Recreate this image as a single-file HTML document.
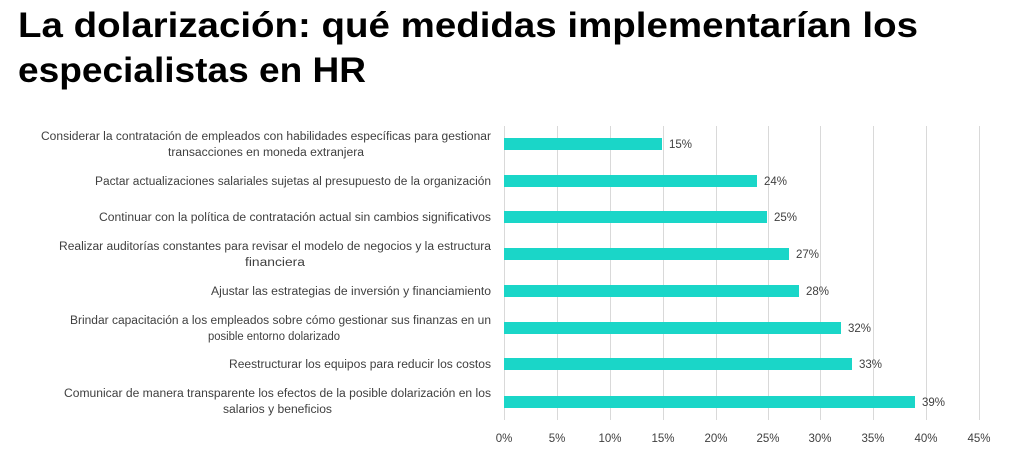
<!DOCTYPE html>
<html><head><meta charset="utf-8"><style>
html,body{margin:0;padding:0;background:#fff;width:1024px;height:455px;overflow:hidden}
svg{display:block}
.t{font-family:"Liberation Sans",sans-serif;font-weight:bold;font-size:35px;fill:#000}
.l{font-family:"Liberation Sans",sans-serif;font-size:11.5px;fill:#404040}
</style></head><body>
<svg width="1024" height="455" xmlns="http://www.w3.org/2000/svg">
<text class="t" x="18" y="37" textLength="900" lengthAdjust="spacingAndGlyphs">La dolarización: qué medidas implementarían los</text>
<text class="t" x="18" y="82" textLength="348" lengthAdjust="spacingAndGlyphs">especialistas en HR</text>
<g stroke="#d9d9d9" stroke-width="1">
<line x1="504.5" y1="126" x2="504.5" y2="420"/><line x1="557.5" y1="126" x2="557.5" y2="420"/>
<line x1="610.5" y1="126" x2="610.5" y2="420"/><line x1="663.5" y1="126" x2="663.5" y2="420"/>
<line x1="716.5" y1="126" x2="716.5" y2="420"/><line x1="768.5" y1="126" x2="768.5" y2="420"/>
<line x1="820.5" y1="126" x2="820.5" y2="420"/><line x1="873.5" y1="126" x2="873.5" y2="420"/>
<line x1="926.5" y1="126" x2="926.5" y2="420"/><line x1="979.5" y1="126" x2="979.5" y2="420"/>
</g>
<g fill="#1ad6c8">
<rect x="504" y="138" width="158" height="12"/>
<rect x="504" y="175" width="253" height="12"/>
<rect x="504" y="211" width="263" height="12"/>
<rect x="504" y="248" width="285" height="12"/>
<rect x="504" y="285" width="295" height="12"/>
<rect x="504" y="322" width="337" height="12"/>
<rect x="504" y="358" width="348" height="12"/>
<rect x="504" y="396" width="411" height="12"/>
</g>
<g class="l">
<text x="669" y="148">15%</text>
<text x="764" y="185">24%</text>
<text x="774" y="221">25%</text>
<text x="796" y="258">27%</text>
<text x="806" y="295">28%</text>
<text x="848" y="332">32%</text>
<text x="859" y="368">33%</text>
<text x="922" y="406">39%</text>
</g>
<g class="l">
<text x="41" y="140" textLength="450" lengthAdjust="spacingAndGlyphs">Considerar la contratación de empleados con habilidades específicas para gestionar</text>
<text x="168" y="156" textLength="196" lengthAdjust="spacingAndGlyphs">transacciones en moneda extranjera</text>
<text x="95" y="185" textLength="396" lengthAdjust="spacingAndGlyphs">Pactar actualizaciones salariales sujetas al presupuesto de la organización</text>
<text x="99" y="221" textLength="392" lengthAdjust="spacingAndGlyphs">Continuar con la política de contratación actual sin cambios significativos</text>
<text x="59" y="250" textLength="432" lengthAdjust="spacingAndGlyphs">Realizar auditorías constantes para revisar el modelo de negocios y la estructura</text>
<text x="245" y="266" textLength="60" lengthAdjust="spacingAndGlyphs">financiera</text>
<text x="211" y="295" textLength="280" lengthAdjust="spacingAndGlyphs">Ajustar las estrategias de inversión y financiamiento</text>
<text x="70" y="324" textLength="421" lengthAdjust="spacingAndGlyphs">Brindar capacitación a los empleados sobre cómo gestionar sus finanzas en un</text>
<text x="208" y="340" textLength="132" lengthAdjust="spacingAndGlyphs">posible entorno dolarizado</text>
<text x="229" y="368" textLength="262" lengthAdjust="spacingAndGlyphs">Reestructurar los equipos para reducir los costos</text>
<text x="64" y="397" textLength="427" lengthAdjust="spacingAndGlyphs">Comunicar de manera transparente los efectos de la posible dolarización en los</text>
<text x="223" y="413" textLength="109" lengthAdjust="spacingAndGlyphs">salarios y beneficios</text>
</g>
<g class="l" text-anchor="middle">
<text x="504" y="442">0%</text><text x="557" y="442">5%</text><text x="610" y="442">10%</text>
<text x="663" y="442">15%</text><text x="716" y="442">20%</text><text x="768" y="442">25%</text>
<text x="820" y="442">30%</text><text x="873" y="442">35%</text><text x="926" y="442">40%</text>
<text x="979" y="442">45%</text>
</g>
</svg>
</body></html>
